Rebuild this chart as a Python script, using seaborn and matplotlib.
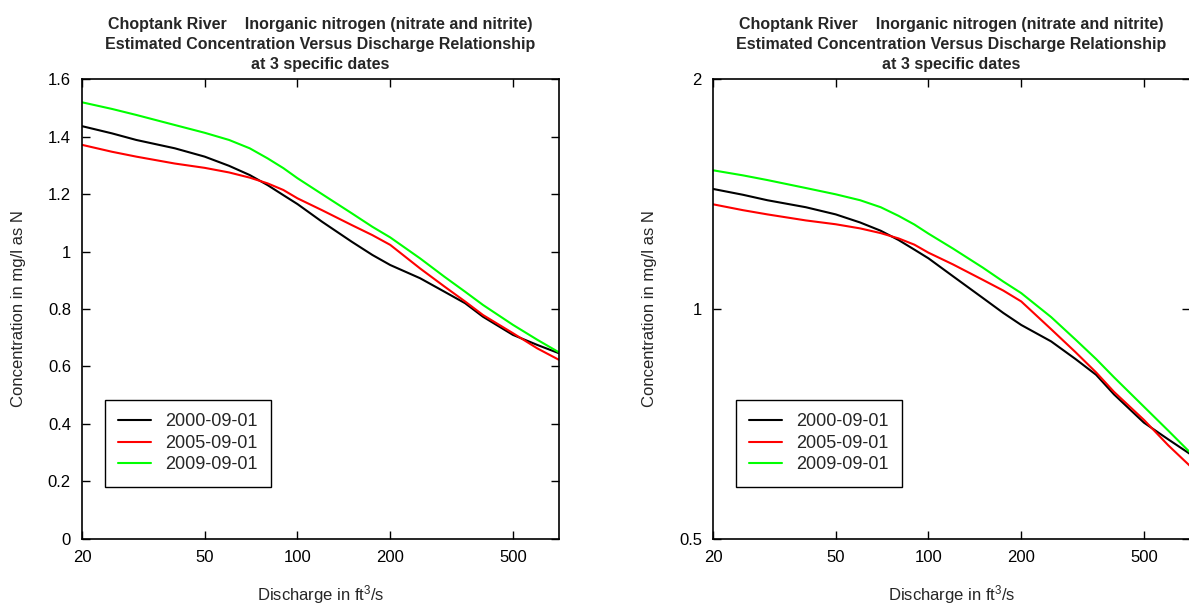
import numpy as np
import pandas as pd
import matplotlib
matplotlib.use("Agg")
import matplotlib.pyplot as plt
import seaborn as sns
from matplotlib.ticker import FixedLocator, FixedFormatter, NullLocator, FormatStrFormatter

# discharge (ft3/s) and estimated concentration (mg/l as N)
discharge = [20, 25, 30, 40, 50, 60, 70, 80, 90, 100, 120, 150, 175, 200,
             250, 300, 350, 400, 500, 600, 706]
conc_2000 = [1.436, 1.411, 1.388, 1.359, 1.330, 1.298, 1.266, 1.231, 1.196, 1.165,
             1.104, 1.034, 0.988, 0.953, 0.907, 0.860, 0.820, 0.773, 0.710, 0.675, 0.646]
conc_2005 = [1.371, 1.347, 1.330, 1.306, 1.291, 1.275, 1.257, 1.237, 1.214, 1.185,
             1.144, 1.092, 1.057, 1.023, 0.941, 0.878, 0.826, 0.779, 0.716, 0.663, 0.623]
conc_2009 = [1.519, 1.496, 1.475, 1.440, 1.413, 1.388, 1.359, 1.324, 1.290, 1.255,
             1.200, 1.133, 1.086, 1.049, 0.976, 0.912, 0.860, 0.814, 0.745, 0.693, 0.649]
dates = ["2000-09-01", "2005-09-01", "2009-09-01"]
colors = ["black", "#ff0000", "#00ff00"]

x_ticks = [20, 50, 100, 200, 500]
lin_ticks = [0, 0.2, 0.4, 0.6, 0.8, 1.0, 1.2, 1.4, 1.6]
log_ticks = [0.5, 1, 2]

title = ("Choptank River    Inorganic nitrogen (nitrate and nitrite)\n"
         "Estimated Concentration Versus Discharge Relationship\n"
         "at 3 specific dates")

df = pd.DataFrame({
    "Discharge": discharge * 3,
    "Conc": conc_2000 + conc_2005 + conc_2009,
    "Date": [d for d in dates for _ in discharge],
})

sns.set_style("ticks")
plt.rcParams["font.family"] = ["Liberation Sans", "DejaVu Sans"]
plt.rcParams["mathtext.fontset"] = "custom"
plt.rcParams["mathtext.rm"] = "Liberation Sans"
plt.rcParams["mathtext.default"] = "regular"
plt.rcParams["axes.linewidth"] = 1.2
plt.rcParams["axes.edgecolor"] = "black"

fig = plt.figure(figsize=(11.89, 6.06), dpi=100)
ax1 = fig.add_axes([0.069, 0.1106, 0.4012, 0.759])
ax2 = fig.add_axes([0.5997, 0.1106, 0.4012, 0.759])

for ax, logy in [(ax1, False), (ax2, True)]:
    for date, col in zip(dates, colors):
        sub = df[df["Date"] == date]
        sns.lineplot(data=sub, x="Discharge", y="Conc", ax=ax, color=col,
                     linewidth=1.5, label=date, sort=True)
    ax.set_xscale("log")
    ax.set_xlim(20, 706)
    ax.xaxis.set_major_locator(FixedLocator(x_ticks))
    ax.xaxis.set_major_formatter(FixedFormatter([str(t) for t in x_ticks]))
    ax.xaxis.set_minor_locator(NullLocator())
    if logy:
        ax.set_yscale("log")
        ax.set_ylim(0.5, 2)
        ax.yaxis.set_major_locator(FixedLocator(log_ticks))
        ax.yaxis.set_major_formatter(FixedFormatter(["0.5", "1", "2"]))
        ax.yaxis.set_minor_locator(NullLocator())
    else:
        ax.set_ylim(0, 1.6)
        ax.yaxis.set_major_locator(FixedLocator(lin_ticks))
        ax.yaxis.set_major_formatter(FormatStrFormatter("%g"))
    ax.tick_params(direction="in", length=6, width=1, labelsize=12, pad=8,
                   top=True, right=True, colors="black")
    ax.set_xlabel(r"Discharge in ft$^3$/s", fontsize=12, labelpad=13)
    ax.set_ylabel("Concentration in mg/l as N", fontsize=12, labelpad=16)
    ax.set_title(title, fontsize=11.5, fontweight="bold", linespacing=1.42, pad=7)
    leg = ax.legend(loc="lower left", bbox_to_anchor=(0.048, 0.113), borderaxespad=0,
                    fontsize=13, handlelength=1.8, handletextpad=0.8, borderpad=0.75,
                    labelspacing=0.25, fancybox=False, framealpha=1, edgecolor="black")
    leg.get_frame().set_linewidth(1.0)
    for spine in ax.spines.values():
        spine.set_visible(True)

fig.savefig("out.png", dpi=100)
